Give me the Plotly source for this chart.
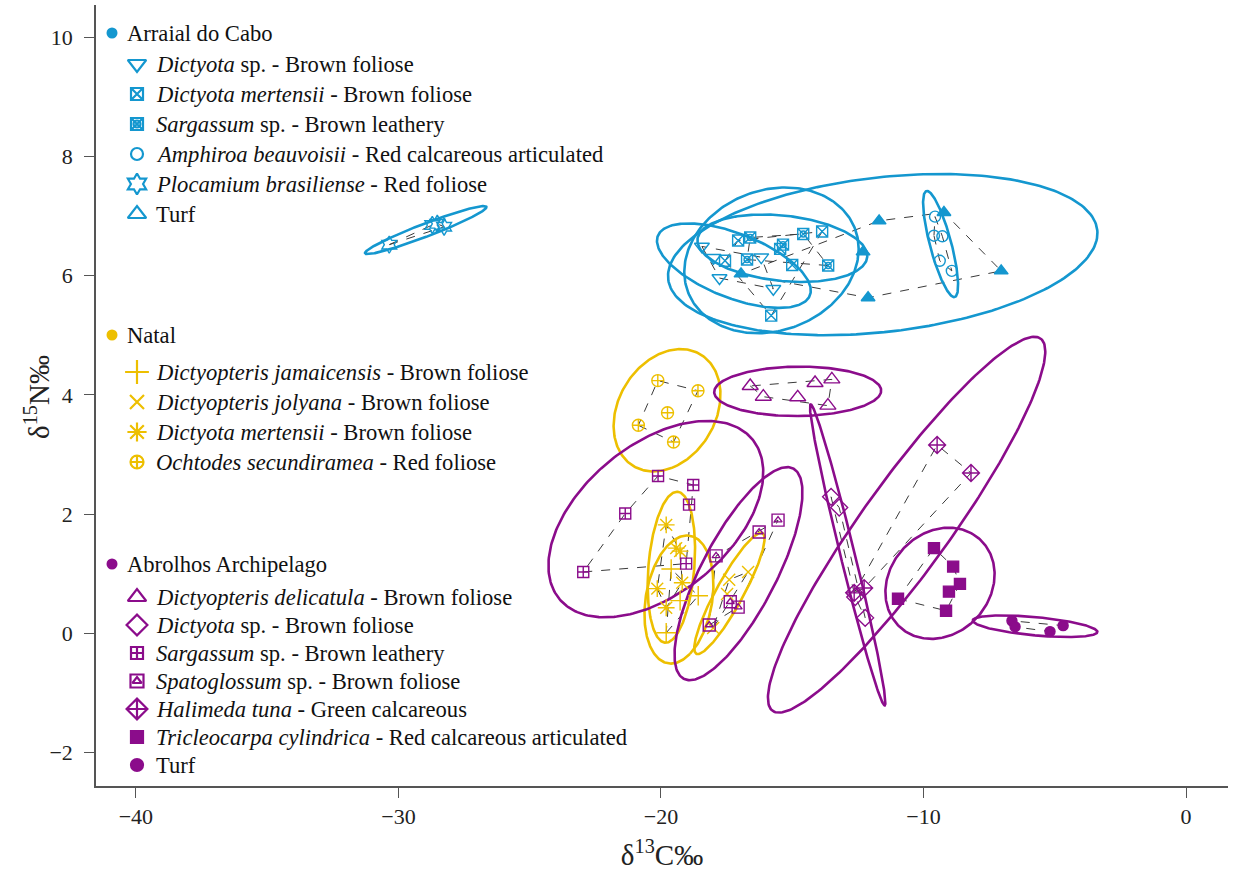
import numpy as np
import plotly.graph_objects as go

BLUE = "#1497CF"
GOLD = "#EDBF00"
PURPLE = "#8B0C8B"
HULL = "#3a3a3a"
FONT = "Liberation Serif, Times New Roman, serif"

# ---------------- data (d13C, d15N) ----------------
# Arraial do Cabo
ac_dictyota_sp_x = [-18.44, -18.00, -17.77, -16.18, -15.72]
ac_dictyota_sp_y = [6.49, 6.30, 5.96, 6.31, 5.78]
ac_dmertensii_x = [-17.06, -17.56, -15.46, -15.00, -15.80, -13.86]
ac_dmertensii_y = [6.59, 6.25, 6.45, 6.18, 5.33, 6.74]
ac_sargassum_x = [-16.60, -16.72, -15.35, -14.58, -13.63]
ac_sargassum_y = [6.64, 6.27, 6.52, 6.70, 6.17]
ac_amphiroa_x = [-9.56, -9.60, -9.28, -9.38, -8.92]
ac_amphiroa_y = [6.99, 6.67, 6.66, 6.25, 6.08]
ac_plocamium_x = [-30.35, -28.71, -28.52, -28.26]
ac_plocamium_y = [6.52, 6.85, 6.87, 6.82]
ac_turf_x = [-16.95, -11.69, -9.22, -7.04, -12.11, -12.30]
ac_turf_y = [6.03, 6.92, 7.06, 6.08, 5.63, 6.40]

# Natal
na_djamaicensis_x = [-19.61, -19.27, -18.58, -19.80]
na_djamaicensis_y = [1.08, 0.55, 0.63, 0.01]
na_djolyana_x = [-16.68, -17.40, -17.48, -18.01]
na_djolyana_y = [1.03, 0.90, 0.66, 0.09]
na_dmertensii_x = [-19.80, -19.42, -19.27, -19.19, -20.14, -19.80]
na_dmertensii_y = [1.82, 1.43, 1.38, 0.85, 0.75, 0.43]
na_ochtodes_x = [-20.12, -18.59, -19.75, -20.86, -19.52]
na_ochtodes_y = [4.24, 4.07, 3.70, 3.49, 3.21]

# Abrolhos Archipelago
ab_ddelicatula_x = [-16.60, -16.10, -14.79, -14.13, -13.49, -13.64]
ab_ddelicatula_y = [4.15, 3.97, 3.96, 4.20, 4.26, 3.82]
ab_dictyota_sp_x = [-13.52, -13.21, -12.60, -12.22]
ab_dictyota_sp_y = [2.29, 2.11, 0.61, 0.26]
ab_sargassum_x = [-20.11, -18.77, -18.93, -21.36, -22.96, -19.04]
ab_sargassum_y = [2.64, 2.49, 2.16, 2.01, 1.03, 1.17]
ab_spatoglossum_x = [-15.54, -16.26, -17.90, -17.36, -17.06, -18.16]
ab_spatoglossum_y = [1.90, 1.70, 1.30, 0.53, 0.44, 0.14]
ab_halimeda_x = [-9.48, -8.19, -12.26, -12.64]
ab_halimeda_y = [3.16, 2.69, 0.76, 0.68]
ab_tricleocarpa_x = [-9.60, -8.87, -8.61, -9.03, -9.14, -10.97]
ab_tricleocarpa_y = [1.43, 1.12, 0.83, 0.70, 0.38, 0.58]
ab_turf_x = [-6.63, -6.51, -5.18, -4.68]
ab_turf_y = [0.21, 0.11, 0.03, 0.13]

x_ticks = [-40, -30, -20, -10, 0]
y_ticks = [-2, 0, 2, 4, 6, 8, 10]

site_names = ["Arraial do Cabo", "Natal", "Abrolhos Archipelago"]
site_colors = [BLUE, GOLD, PURPLE]

# site, label, x, y, plot symbols [(symbol, size)], legend symbols
species = [
    # Arraial do Cabo
    (0, "<i>Dictyota</i> sp. - Brown foliose", ac_dictyota_sp_x, ac_dictyota_sp_y,
     [("triangle-down-open", 13)], [("triangle-down-open", 16)]),
    (0, "<i>Dictyota mertensii</i> - Brown foliose", ac_dmertensii_x, ac_dmertensii_y,
     [("square-x-open", 11)], [("square-x-open", 12)]),
    (0, "<i>Sargassum</i> sp. - Brown leathery", ac_sargassum_x, ac_sargassum_y,
     [("square-x-open", 11), ("circle-open", 6)], [("square-x-open", 12), ("circle-open", 7)]),
    (0, "<i>Amphiroa beauvoisii</i> - Red calcareous articulated", ac_amphiroa_x, ac_amphiroa_y,
     [("circle-open", 11)], [("circle-open", 12)]),
    (0, "<i>Plocamium brasiliense</i> - Red foliose", ac_plocamium_x, ac_plocamium_y,
     [("hexagram-open", 13)], [("hexagram-open", 16)]),
    (0, "Turf", ac_turf_x, ac_turf_y,
     [("triangle-up", 12)], [("triangle-up-open", 16)]),
    # Natal
    (1, "<i>Dictyopteris jamaicensis</i> - Brown foliose", na_djamaicensis_x, na_djamaicensis_y,
     [("cross-thin-open", 14)], [("cross-thin-open", 17)]),
    (1, "<i>Dictyopteris jolyana</i> - Brown foliose", na_djolyana_x, na_djolyana_y,
     [("x-thin-open", 12)], [("x-thin-open", 14)]),
    (1, "<i>Dictyota mertensii</i> - Brown foliose", na_dmertensii_x, na_dmertensii_y,
     [("asterisk-open", 14)], [("asterisk-open", 16)]),
    (1, "<i>Ochtodes secundiramea</i> - Red foliose", na_ochtodes_x, na_ochtodes_y,
     [("circle-cross-open", 12)], [("circle-cross-open", 13)]),
    # Abrolhos
    (2, "<i>Dictyopteris delicatula</i> - Brown foliose", ab_ddelicatula_x, ab_ddelicatula_y,
     [("triangle-up-open", 14)], [("triangle-up-open", 16)]),
    (2, "<i>Dictyota</i> sp. - Brown foliose", ab_dictyota_sp_x, ab_dictyota_sp_y,
     [("diamond-open", 13)], [("diamond-open", 16)]),
    (2, "<i>Sargassum</i> sp. - Brown leathery", ab_sargassum_x, ab_sargassum_y,
     [("square-cross-open", 11)], [("square-cross-open", 12)]),
    (2, "<i>Spatoglossum</i> sp. - Brown foliose", ab_spatoglossum_x, ab_spatoglossum_y,
     [("square-open", 12), ("triangle-up-open", 7)], [("square-open", 13), ("triangle-up-open", 8)]),
    (2, "<i>Halimeda tuna</i> - Green calcareous", ab_halimeda_x, ab_halimeda_y,
     [("diamond-cross-open", 13)], [("diamond-cross-open", 16)]),
    (2, "<i>Tricleocarpa cylindrica</i> - Red calcareous articulated", ab_tricleocarpa_x, ab_tricleocarpa_y,
     [("square", 11)], [("square", 12)]),
    (2, "Turf", ab_turf_x, ab_turf_y,
     [("circle", 10)], [("circle", 12)]),
]


def ellipse(x, y, n=240, r=np.sqrt(5.991)):
    pts = np.column_stack([x, y])
    m = pts.mean(axis=0)
    c = np.cov(pts.T)
    w, v = np.linalg.eigh(c)
    w = np.clip(w, 0, None)
    t = np.linspace(0, 2 * np.pi, n)
    circ = np.vstack([np.cos(t), np.sin(t)]) * np.sqrt(w)[:, None]
    e = v @ circ * r
    return m[0] + e[0], m[1] + e[1]


def hull(x, y):
    p = sorted(set(zip(x, y)))
    if len(p) < 3:
        return [q[0] for q in p], [q[1] for q in p]

    def cross(o, a, b):
        return (a[0] - o[0]) * (b[1] - o[1]) - (a[1] - o[1]) * (b[0] - o[0])

    lower, upper = [], []
    for q in p:
        while len(lower) >= 2 and cross(lower[-2], lower[-1], q) <= 0:
            lower.pop()
        lower.append(q)
    for q in reversed(p):
        while len(upper) >= 2 and cross(upper[-2], upper[-1], q) <= 0:
            upper.pop()
        upper.append(q)
    h = lower[:-1] + upper[:-1]
    h.append(h[0])
    return [q[0] for q in h], [q[1] for q in h]


fig = go.Figure()

for site, label, xs, ys, psyms, lsyms in species:
    hx, hy = hull(xs, ys)
    fig.add_trace(go.Scatter(x=hx, y=hy, mode="lines", showlegend=False, hoverinfo="skip",
                             line=dict(color=HULL, width=1, dash="dash")))
for site, label, xs, ys, psyms, lsyms in species:
    ex, ey = ellipse(xs, ys)
    fig.add_trace(go.Scatter(x=ex, y=ey, mode="lines", showlegend=False, hoverinfo="skip",
                             line=dict(color=site_colors[site], width=2.6)))
for site, label, xs, ys, psyms, lsyms in species:
    for sym, sz in psyms:
        fig.add_trace(go.Scatter(x=xs, y=ys, mode="markers", showlegend=False,
                                 marker=dict(symbol=sym, size=sz, color=site_colors[site],
                                             line=dict(color=site_colors[site], width=1.4))))

# ---------------- manual legend on pixel overlay axes ----------------
header_y = [33, 335, 564]
item_y = {0: [64, 94, 124, 154, 184, 214],
          1: [372, 402, 432, 462],
          2: [597, 625, 653, 681, 709, 737, 765]}
annotations = []
for s in range(3):
    fig.add_trace(go.Scatter(x=[112], y=[header_y[s]], mode="markers", showlegend=False,
                             xaxis="x2", yaxis="y2", hoverinfo="skip",
                             marker=dict(symbol="circle", size=11, color=site_colors[s])))
    annotations.append(dict(x=125, y=header_y[s], xref="x2", yref="y2", text=site_names[s],
                            showarrow=False, xanchor="left", yanchor="middle",
                            font=dict(family=FONT, size=22.6, color="#111")))
counters = {0: 0, 1: 0, 2: 0}
for site, label, xs, ys, psyms, lsyms in species:
    yy = item_y[site][counters[site]]
    counters[site] += 1
    for sym, sz in lsyms:
        fig.add_trace(go.Scatter(x=[137], y=[yy], mode="markers", showlegend=False,
                                 xaxis="x2", yaxis="y2", hoverinfo="skip",
                                 marker=dict(symbol=sym, size=sz, color=site_colors[site],
                                             line=dict(color=site_colors[site], width=2.2))))
    annotations.append(dict(x=154, y=yy, xref="x2", yref="y2", text=label,
                            showarrow=False, xanchor="left", yanchor="middle",
                            font=dict(family=FONT, size=22.6, color="#111")))

# y axis title as a rotated annotation (paper coords relative to plot area)
annotations.append(dict(x=(37 - 96) / 1132, y=(786 - 397) / 781, xref="paper", yref="paper",
                        text="δ<sup>15</sup>N‰", textangle=-90, showarrow=False,
                        xanchor="center", yanchor="middle",
                        font=dict(family=FONT, size=29, color="#222")))

axis_common = dict(showgrid=False, zeroline=False, showline=True, linecolor="#555",
                   linewidth=1.5, ticks="outside", ticklen=10, tickwidth=1.2, tickcolor="#555",
                   tickfont=dict(family=FONT, size=22, color="#222"), mirror=False,
                   automargin=False)

fig.update_layout(
    width=1233, height=878,
    margin=dict(l=96, r=5, t=5, b=92),
    paper_bgcolor="white", plot_bgcolor="white",
    showlegend=False,
    font=dict(family=FONT, size=22, color="#222"),
    xaxis=dict(range=[-41.52, 1.6], tickvals=x_ticks,
               title=dict(text="δ<sup>13</sup>C‰", font=dict(family=FONT, size=29, color="#222"), standoff=17),
               **axis_common),
    yaxis=dict(range=[-2.56, 10.54], tickvals=y_ticks, ticklabelstandoff=7,
               **axis_common),
    xaxis2=dict(overlaying="x", range=[96, 1228], visible=False, fixedrange=True),
    yaxis2=dict(overlaying="y", range=[786, 5], visible=False, fixedrange=True),
    annotations=annotations,
)

fig.write_html("out.html", config={"displayModeBar": False},
               post_script="document.body.style.margin='0px';document.body.style.padding='0px';")
